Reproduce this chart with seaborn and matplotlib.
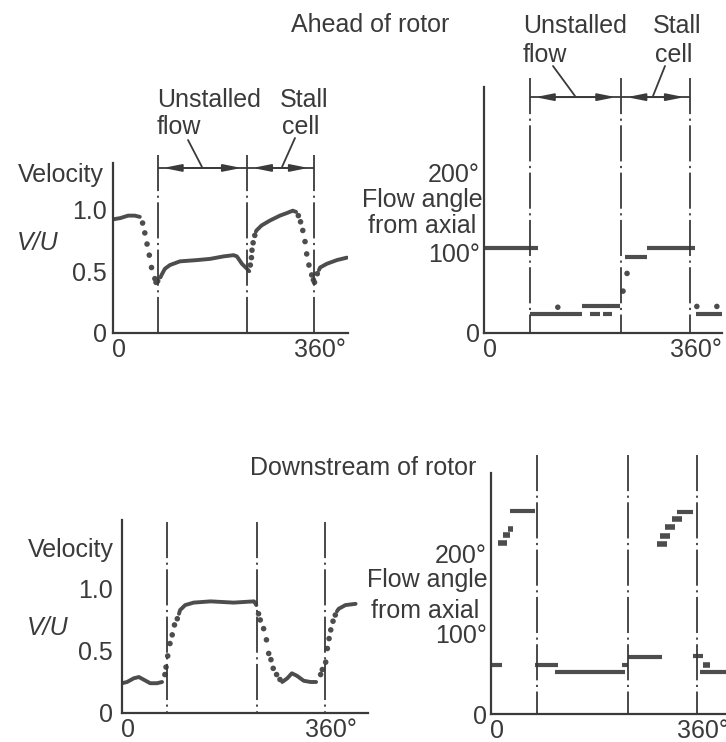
import numpy as np
import pandas as pd
import matplotlib
matplotlib.use("Agg")
import matplotlib.pyplot as plt
from matplotlib.lines import Line2D
from matplotlib.transforms import ScaledTranslation
import seaborn as sns

sns.set_theme(style="white")
plt.rcParams['font.family'] = ['Liberation Sans', 'DejaVu Sans']

# ---------------- data ----------------
stall_lines_deg = [80, 240, 360]
x_ticks = [0, 360]
x_tick_labels = ['0', '360°']
vel_ticks = [0, 0.5, 1.0]
vel_tick_labels = ['0', '0.5', '1.0']
ang_ticks = [0, 100, 200]
ang_tick_labels = ['0', '100°', '200°']

# Ahead of rotor: velocity V/U (solid traces and sampled dots)
ahead_vel_seg1_x = [0, 13, 27, 39, 48]
ahead_vel_seg1_y = [0.92, 0.93, 0.95, 0.95, 0.94]
ahead_vel_seg2_x = [85, 87, 93, 102, 120, 150, 174, 198, 216, 222, 231, 240, 244]
ahead_vel_seg2_y = [0.45, 0.47, 0.52, 0.55, 0.58, 0.59, 0.60, 0.62, 0.63, 0.62, 0.56, 0.52, 0.50]
ahead_vel_seg3_x = [256, 257, 266, 281, 299, 311, 322, 328]
ahead_vel_seg3_y = [0.82, 0.83, 0.87, 0.91, 0.95, 0.97, 0.99, 0.98]
ahead_vel_seg4_x = [369, 371, 383, 401, 419]
ahead_vel_seg4_y = [0.51, 0.53, 0.56, 0.59, 0.61]
ahead_vel_dots_x = [53, 57, 61, 65, 69, 75, 77, 80,
                    246, 248, 249, 251, 254,
                    332, 336, 340, 344, 347, 351, 356, 359, 361, 366]
ahead_vel_dots_y = [0.89, 0.81, 0.72, 0.63, 0.53, 0.44, 0.41, 0.42,
                    0.55, 0.61, 0.67, 0.73, 0.79,
                    0.95, 0.90, 0.83, 0.74, 0.64, 0.55, 0.47, 0.43, 0.41, 0.48]

# Ahead of rotor: flow angle steps (start deg, end deg, angle)
ahead_ang_start = [0, 80, 171, 185, 208, 246, 285, 370]
ahead_ang_end = [94, 171, 238, 203, 224, 285, 369, 416]
ahead_ang_val = [105, 24, 33, 24, 24, 95, 105, 24]
ahead_ang_dots_x = [129, 243, 250, 372, 407]
ahead_ang_dots_y = [32, 52, 74, 33, 33]

# Downstream of rotor: velocity V/U
down_vel_seg1_x = [0, 9, 21, 30, 38, 50, 62, 71]
down_vel_seg1_y = [0.24, 0.25, 0.28, 0.29, 0.27, 0.24, 0.24, 0.25]
down_vel_seg2_x = [101, 103, 112, 127, 157, 198, 234, 238]
down_vel_seg2_y = [0.80, 0.83, 0.87, 0.89, 0.90, 0.89, 0.90, 0.87]
down_vel_seg3_x = [284, 293, 301, 310, 322, 334, 344]
down_vel_seg3_y = [0.25, 0.28, 0.32, 0.30, 0.26, 0.25, 0.25]
down_vel_seg4_x = [381, 384, 396, 414]
down_vel_seg4_y = [0.82, 0.84, 0.87, 0.88]
down_vel_dots_x = [76, 78, 81, 85, 89, 93, 98,
                   242, 245, 251, 256, 260, 264, 268, 274, 280,
                   352, 355, 361, 364, 367, 370, 374, 378]
down_vel_dots_y = [0.31, 0.37, 0.46, 0.56, 0.63, 0.71, 0.76,
                   0.80, 0.75, 0.68, 0.59, 0.48, 0.43, 0.36, 0.31, 0.27,
                   0.31, 0.35, 0.41, 0.52, 0.60, 0.67, 0.74, 0.79]

# Downstream of rotor: flow angle steps
down_ang_start = [0, 33, 77, 112, 229, 240, 325, 354, 365]
down_ang_end = [19, 77, 117, 234, 240, 299, 353, 371, 411]
down_ang_val = [61, 253, 61, 52, 61, 71, 252, 72, 52]
down_ang_dash_start = [12, 21, 30, 290, 295, 304, 316, 371]
down_ang_dash_end = [28, 33, 38, 308, 313, 322, 334, 383]
down_ang_dash_val = [213, 223, 231, 212, 222, 233, 243, 61]

# ---------------- figure ----------------
W, H = 726, 742
fig = plt.figure(figsize=(W / 100, H / 100), dpi=100)
fig.patch.set_facecolor('white')
INK = '#3a3a3a'
DATA = '#4d4d4d'
FS = 18


def px_axes(left, right, top, bottom):
    return fig.add_axes([left / W, 1 - bottom / H, (right - left) / W, (bottom - top) / H])


def fx(x):
    return x / W


def fy(y):
    return 1 - y / H


def style(ax, xmax, ymax, yticks, ylabels, ypad):
    ax.set_xlim(0, xmax)
    ax.set_ylim(0, ymax)
    for s in ['top', 'right']:
        ax.spines[s].set_visible(False)
    for s in ['left', 'bottom']:
        ax.spines[s].set_color(INK)
        ax.spines[s].set_linewidth(1.6)
    ax.set_xticks(x_ticks, x_tick_labels)
    ax.set_yticks(yticks, ylabels)
    ax.tick_params(axis='x', length=0, pad=3.5, labelsize=FS, labelcolor=INK)
    ax.tick_params(axis='y', direction='in', length=12, width=1.4, color=INK,
                   pad=ypad, labelsize=FS, labelcolor=INK)
    ax.set_xlabel('')
    ax.set_ylabel('')
    ax.patch.set_alpha(0)
    for lbl in ax.get_xticklabels():
        lbl.set_transform(lbl.get_transform() + ScaledTranslation(0.06, 0, fig.dpi_scale_trans))


def stall_lines(ax, ytop):
    ax.vlines(stall_lines_deg, ytop, 0, colors=INK, linewidth=1.3,
              linestyles=(0, (20, 2.5, 1.2, 2.5)), clip_on=False)


def bracket(ax, yb):
    ax.hlines([yb], stall_lines_deg[0], stall_lines_deg[2], colors=INK, linewidth=1.3, clip_on=False)
    for a, b in [(stall_lines_deg[0], stall_lines_deg[1]), (stall_lines_deg[1], stall_lines_deg[2])]:
        ax.annotate('', xy=(a, yb), xytext=(b, yb), xycoords='data',
                    arrowprops=dict(arrowstyle='<|-|>,head_length=0.9,head_width=0.18',
                                    color=INK, lw=1.3, shrinkA=4, shrinkB=4,
                                    mutation_scale=12),
                    annotation_clip=False)


def vel_traces(ax, segs, dx, dy):
    for sx, sy in segs:
        sns.lineplot(x=sx, y=sy, ax=ax, color=DATA, linewidth=2.8, sort=False,
                     estimator=None)
    sns.scatterplot(x=dx, y=dy, ax=ax, color=DATA, s=16, linewidth=0, edgecolor='none')


def txt(x, y, s, **kw):
    fig.text(fx(x), fy(y), s, fontsize=FS, color=INK, va='baseline', **kw)


def leader(x0, y0, x1, y1):
    fig.add_artist(Line2D([fx(x0), fx(x1)], [fy(y0), fy(y1)], color=INK, lw=1.3))


# ---- top-left: ahead, velocity ----
ax1 = px_axes(113, 348, 163, 333)
vel_traces(ax1,
           [(ahead_vel_seg1_x, ahead_vel_seg1_y), (ahead_vel_seg2_x, ahead_vel_seg2_y),
            (ahead_vel_seg3_x, ahead_vel_seg3_y), (ahead_vel_seg4_x, ahead_vel_seg4_y)],
           ahead_vel_dots_x, ahead_vel_dots_y)
style(ax1, 421, 1.376, vel_ticks, vel_tick_labels, 4.5)
stall_lines(ax1, 1.441)
bracket(ax1, 1.336)

# ---- top-right: ahead, flow angle ----
ax2 = px_axes(484, 722, 87, 333)
ax2.hlines(ahead_ang_val, ahead_ang_start, ahead_ang_end, colors=DATA, linewidth=3.0)
sns.scatterplot(x=ahead_ang_dots_x, y=ahead_ang_dots_y, ax=ax2, color=DATA, s=16,
                linewidth=0, edgecolor='none')
style(ax2, 416, 305.6, ang_ticks, ang_tick_labels, 3)
stall_lines(ax2, 316.8)
bracket(ax2, 293)

# ---- bottom-left: downstream, velocity ----
ax3 = px_axes(122, 368, 520, 713)
vel_traces(ax3,
           [(down_vel_seg1_x, down_vel_seg1_y), (down_vel_seg2_x, down_vel_seg2_y),
            (down_vel_seg3_x, down_vel_seg3_y), (down_vel_seg4_x, down_vel_seg4_y)],
           down_vel_dots_x, down_vel_dots_y)
style(ax3, 436, 1.556, vel_ticks, vel_tick_labels, 6.5)
stall_lines(ax3, 1.54)

# ---- bottom-right: downstream, flow angle ----
ax4 = px_axes(491, 726, 473, 714)
ax4.hlines(down_ang_val, down_ang_start, down_ang_end, colors=DATA, linewidth=3.0)
ax4.hlines(down_ang_dash_val, down_ang_dash_start, down_ang_dash_end, colors=DATA,
           linewidth=4.0)
style(ax4, 411, 301, ang_ticks, ang_tick_labels, 3)
stall_lines(ax4, 324)

# ---- texts ----
txt(370, 32, 'Ahead of rotor', ha='center')
txt(363, 475, 'Downstream of rotor', ha='center')

txt(157, 107, 'Unstalled', ha='left')
txt(157, 134, 'flow', ha='left')
txt(280, 107, 'Stall', ha='left')
txt(282, 134, 'cell', ha='left')
leader(188, 140, 202, 167)
leader(295, 138, 282, 167)

txt(523, 33, 'Unstalled', ha='left')
txt(523, 62, 'flow', ha='left')
txt(653, 33, 'Stall', ha='left')
txt(655, 62, 'cell', ha='left')
leader(553, 66, 575, 96)
leader(665, 66, 653, 96)

txt(18, 182, 'Velocity', ha='left')
txt(17, 250, 'V/U', ha='left', style='italic')
txt(28, 557, 'Velocity', ha='left')
txt(27, 635, 'V/U', ha='left', style='italic')

txt(422, 207, 'Flow angle', ha='center')
txt(422, 233, 'from axial', ha='center')
txt(427, 587, 'Flow angle', ha='center')
txt(425, 618, 'from axial', ha='center')

fig.savefig('out.png', dpi=100, facecolor='white')
